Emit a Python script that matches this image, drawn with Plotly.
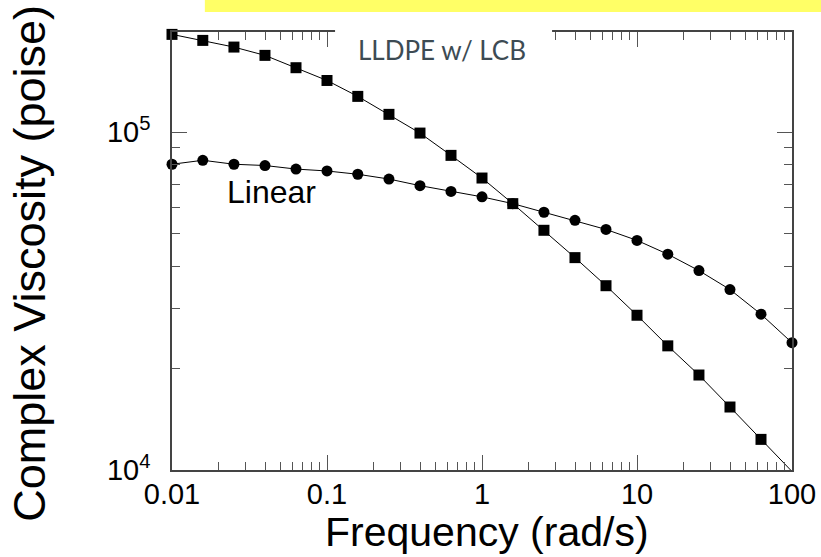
import plotly.graph_objects as go

# frequency (rad/s), 5 points per decade
freq = [0.01, 0.0158, 0.0251, 0.0398, 0.0631, 0.1, 0.158, 0.251, 0.398, 0.631,
        1, 1.58, 2.51, 3.98, 6.31, 10, 15.8, 25.1, 39.8, 63.1, 100]

# complex viscosity (poise)
lcb = [1.945e5, 1.867e5, 1.784e5, 1.686e5, 1.550e5, 1.421e5, 1.275e5, 1.128e5,
       9.93e4, 8.53e4, 7.31e4, 6.14e4, 5.12e4, 4.25e4, 3.51e4, 2.87e4, 2.33e4,
       1.91e4, 1.536e4, 1.232e4, 9.9e3]
linear = [8.03e4, 8.25e4, 8.03e4, 7.96e4, 7.77e4, 7.67e4, 7.50e4, 7.26e4,
          6.94e4, 6.67e4, 6.43e4, 6.14e4, 5.79e4, 5.48e4, 5.15e4, 4.78e4,
          4.35e4, 3.89e4, 3.42e4, 2.89e4, 2.38e4]

x_tick_vals = [0.01, 0.1, 1, 10, 100]
x_tick_text = ["0.01", "0.1", "1", "10", "100"]
y_tick_vals = [1e4, 1e5]
y_tick_text = ["10<sup>4</sup>", "10<sup>5</sup>"]

FONT = "Liberation Sans, Arial, sans-serif"

# minor ticks at 2..9 of each decade
x_minor = [k * 10.0 ** e for e in range(-2, 2) for k in range(2, 10)]
y_minor = [k * 10.0 ** e for e in range(4, 6) for k in range(2, 10)]

fig = go.Figure()

# the last LCB point sits on the corner, its marker is hidden there
lcb_sizes = [11] * (len(lcb) - 1) + [0]

fig.add_trace(go.Scatter(
    x=freq, y=lcb, mode="lines+markers",
    line=dict(color="black", width=1),
    marker=dict(symbol="square", size=lcb_sizes, color="black",
                opacity=1, line=dict(width=0)),
    cliponaxis=False, showlegend=False
))
fig.add_trace(go.Scatter(
    x=freq, y=linear, mode="lines+markers",
    line=dict(color="black", width=1),
    marker=dict(symbol="circle", size=11, color="black", line=dict(width=0)),
    cliponaxis=False, showlegend=False
))

axis_common = dict(
    type="log", showgrid=False, zeroline=False, automargin=False,
    showline=True, linecolor="#444", linewidth=1.5, mirror="allticks",
    ticks="inside", ticklen=15, tickwidth=1.2, tickcolor="#555",
    tickfont=dict(family=FONT, size=29, color="black"),
)

fig.update_xaxes(
    **axis_common, range=[-2, 2],
    tickmode="array", tickvals=x_tick_vals, ticktext=x_tick_text,
    ticklabelstandoff=-3,
    minor=dict(tickmode="array", tickvals=x_minor, ticks="inside",
               ticklen=8, tickwidth=1, tickcolor="#555", showgrid=False),
)
fig.update_yaxes(
    **axis_common, range=[4, 5.296],
    tickmode="array", tickvals=y_tick_vals, ticktext=y_tick_text,
    ticklabelstandoff=14,
    minor=dict(tickmode="array", tickvals=y_minor, ticks="inside",
               ticklen=8, tickwidth=1, tickcolor="#555", showgrid=False),
)

# yellow strip along the top and white box behind the label
fig.add_shape(type="rect", xref="paper", yref="paper",
              x0=0.053, x1=1.05, y0=1.0457, y1=1.075,
              fillcolor="#FFFF66", line=dict(width=0), layer="above")
fig.add_shape(type="rect", xref="paper", yref="paper",
              x0=0.263, x1=0.613, y0=0.925, y1=1.02,
              fillcolor="white", line=dict(width=0), layer="above")

fig.add_annotation(text="LLDPE w/ LCB", xref="paper", yref="paper",
                   x=0.297, y=0.959, xanchor="left", yanchor="middle",
                   showarrow=False,
                   font=dict(family="Lato, Open Sans, sans-serif", size=26,
                             color="#3d4b53"))
fig.add_annotation(text="Linear", xref="paper", yref="paper",
                   x=0.161, y=0.634, xanchor="center", yanchor="middle",
                   showarrow=False, font=dict(family=FONT, size=32, color="black"))
fig.add_annotation(text="Frequency (rad/s)", xref="paper", yref="paper",
                   x=0.508, y=-0.141, xanchor="center", yanchor="middle",
                   showarrow=False, font=dict(family=FONT, size=41, color="black"))
fig.add_annotation(text="Complex Viscosity (poise)", xref="paper", yref="paper",
                   x=-0.231, y=0.4726, xanchor="center", yanchor="middle",
                   textangle=-90, showarrow=False,
                   font=dict(family=FONT, size=45, color="black"))

fig.update_layout(
    width=821, height=557,
    margin=dict(l=172, r=29, t=32, b=87),
    paper_bgcolor="white", plot_bgcolor="white",
    showlegend=False,
)

# drop the page's default body margin so the figure sits at the corner
fig.write_html("out.html", config={"displayModeBar": False},
               post_script="document.body.style.margin='0';")
